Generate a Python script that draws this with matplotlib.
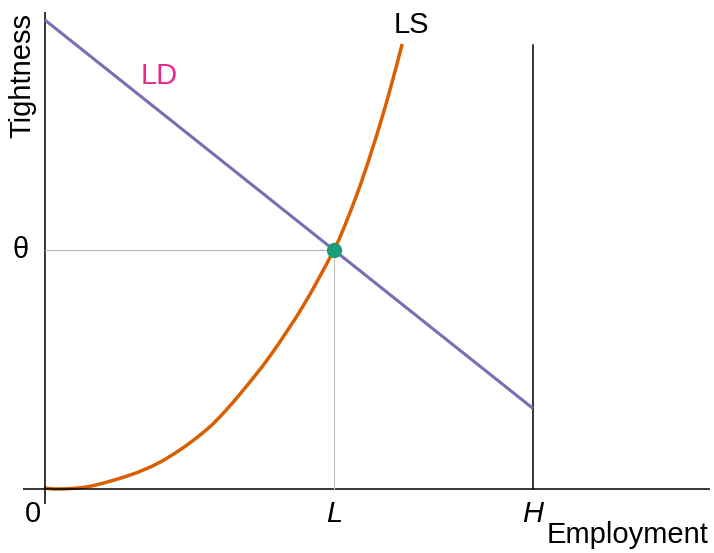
import matplotlib
matplotlib.use("Agg")
import matplotlib.pyplot as plt
from matplotlib.path import Path
from matplotlib.patches import PathPatch

plt.rcParams["font.family"] = ["Liberation Sans", "DejaVu Sans"]

# Dark2-like colours
LD_COLOR = "#7570b3"
LS_COLOR = "#d95f02"
DOT_COLOR = "#1b9e77"
LD_TEXT = "#e7298a"

# equilibrium and bounds (x: employment, y: tightness)
L = 0.592
H = 1.0
theta = 1.0

# labour demand: straight line
ld_x = [0.0, H]
ld_y = [1.962, 0.337]

# labour supply: points
ls_x = [-0.002, 0.031, 0.092, 0.174, 0.230, 0.277, 0.318, 0.352, 0.400,
        0.461, 0.529, 0.592, 0.622, 0.652, 0.686, 0.711, 0.732]
ls_y = [0.004, 0.0, 0.011, 0.058, 0.106, 0.164, 0.226, 0.288, 0.398,
        0.556, 0.766, 1.0, 1.141, 1.306, 1.522, 1.700, 1.862]


def smooth_path(xs, ys):
    # Catmull-Rom through the points, drawn as cubic Bezier segments
    pts = list(zip(xs, ys))
    verts = [pts[0]]
    codes = [Path.MOVETO]
    n = len(pts)
    for i in range(n - 1):
        p0 = pts[max(i - 1, 0)]
        p1 = pts[i]
        p2 = pts[i + 1]
        p3 = pts[min(i + 2, n - 1)]
        c1 = (p1[0] + (p2[0] - p0[0]) / 6, p1[1] + (p2[1] - p0[1]) / 6)
        c2 = (p2[0] - (p3[0] - p1[0]) / 6, p2[1] - (p3[1] - p1[1]) / 6)
        verts += [c1, c2, p2]
        codes += [Path.CURVE4] * 3
    return Path(verts, codes)


fig = plt.figure(figsize=(7.14, 5.53), dpi=100)
ax = fig.add_axes([0, 0, 1, 1])
ax.set_xlim(-0.0922, 1.371)
ax.set_ylim(-0.268, 2.046)
ax.axis("off")

# axes
ax.plot([-0.045, 1.363], [0, 0], color="black", lw=1.1, solid_capstyle="butt")
ax.plot([0, 0], [-0.065, 1.996], color="black", lw=1.1, solid_capstyle="butt")

# guides
ax.plot([0, L], [theta, theta], color="#b3b3b3", lw=0.8)
ax.plot([L, L], [0, theta], color="#c4c4c4", lw=0.8)

# H limit
ax.plot([H, H], [0, 1.858], color="black", lw=1.1)

ax.plot(ld_x, ld_y, color=LD_COLOR, lw=2.2, solid_capstyle="butt")
ax.add_patch(PathPatch(smooth_path(ls_x, ls_y), facecolor="none",
                       edgecolor=LS_COLOR, lw=2.5, capstyle="butt"))
ax.plot([L], [theta], "o", color=DOT_COLOR, ms=10, zorder=5)

fs = 21
ax.text(-0.008, -0.045, "0", fontsize=fs, ha="right", va="top")
ax.text(L, -0.045, "L", fontsize=fs, ha="center", va="top", style="italic")
ax.text(H, -0.045, "H", fontsize=fs, ha="center", va="top", style="italic")
ax.text(1.028, -0.135, "Employment", fontsize=fs, ha="left", va="top")
ax.text(-0.034, theta, "θ", fontsize=fs, ha="right", va="center")
ax.text(-0.018, 1.99, "Tightness", fontsize=fs, ha="right", va="top",
        rotation=90)
ax.text(0.235, 1.73, "LD", fontsize=fs, ha="center", va="center",
        color=LD_TEXT)
ax.text(0.75, 1.94, "LS", fontsize=fs, ha="center", va="center")

fig.savefig("out.png", dpi=100)
